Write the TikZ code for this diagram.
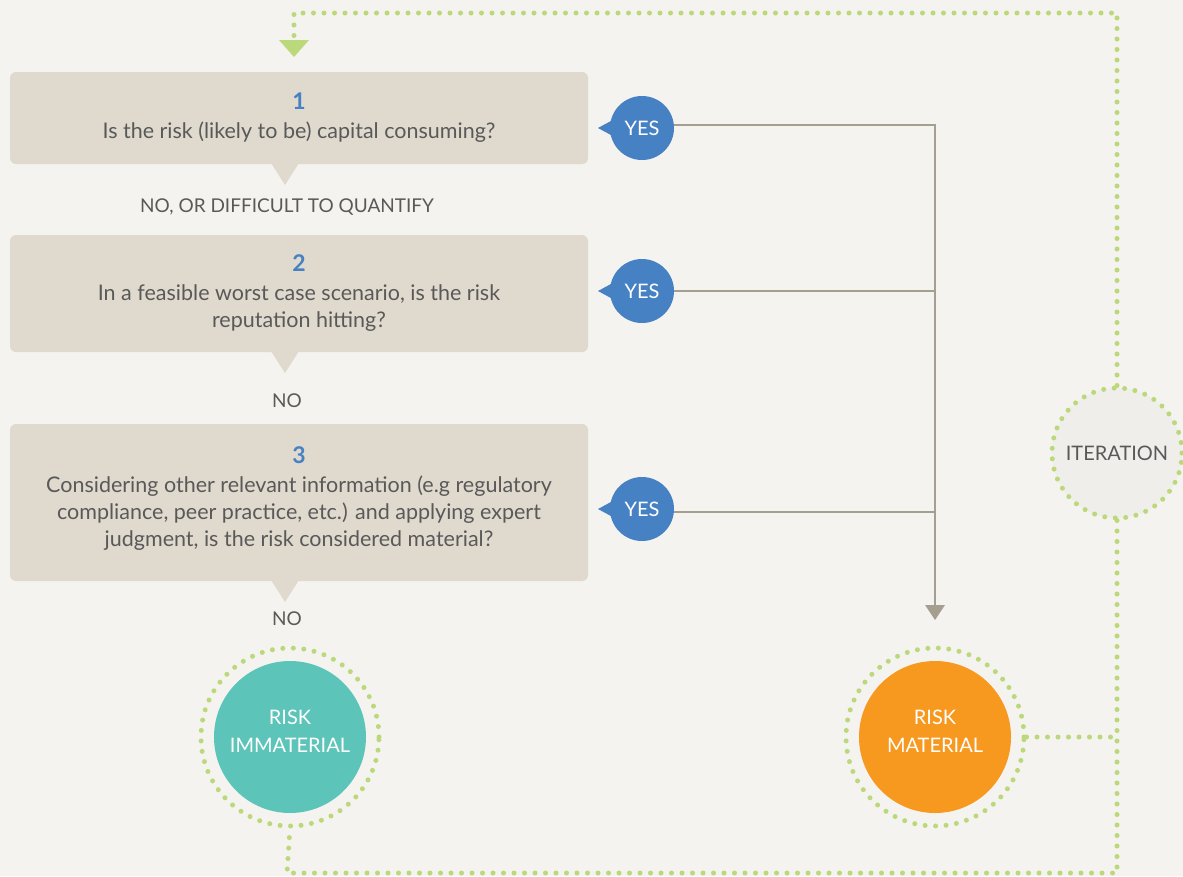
\documentclass[tikz,border=0pt]{standalone}
\usepackage{fontspec}
\setmainfont{Lato}
\usetikzlibrary{positioning, arrows.meta, calc}

\definecolor{bgcol}{HTML}{F4F3EF}
\definecolor{boxfill}{HTML}{E0D9CD}
\definecolor{numblue}{HTML}{4681C3}
\definecolor{linkgray}{HTML}{A59F8F}
\definecolor{dotgreen}{HTML}{BBD97A}
\definecolor{immteal}{HTML}{5CC4B8}
\definecolor{matorange}{HTML}{F7981F}
\definecolor{iterfill}{HTML}{EFEEEB}
\definecolor{txtgray}{HTML}{595959}

\tikzset{
    question/.style={rectangle, rounded corners=6pt, fill=boxfill, text=txtgray, align=center,
        minimum width=578pt, inner sep=0pt, font=\fontsize{21.5}{27}\selectfont},
    answer/.style={text=txtgray, font=\fontsize{19}{24}\selectfont},
    yesball/.style={circle, fill=numblue, text=white, minimum size=64pt, inner sep=0pt,
        font=\fontsize{20}{24}\selectfont},
    outcome/.style={circle, minimum size=152pt, inner sep=0pt, text=white, align=center,
        text depth=12pt, font=\fontsize{20}{28}\selectfont},
    dots/.style={draw=dotgreen, line width=5pt, line cap=round, dash pattern=on 0pt off 10.5pt},
    ring/.style={circle, dots, minimum size=178pt, inner sep=0pt},
    link/.style={draw=linkgray, line width=2pt},
}
\newcommand{\qnum}[1]{{\color{numblue}\fontsize{23}{27}\selectfont\bfseries #1}\\[2pt]}

\begin{document}
\begin{tikzpicture}[x=1pt, y=-1pt]
    \fill[bgcol] (0,0) rectangle (1183,876);
    \useasboundingbox (0,0) rectangle (1183,876);

    % questions
    \node (q1) at (299,118) [question, minimum height=92pt] {\qnum{1}Is the risk (likely to be) capital consuming?};
    \node (q2) at (299,293.5) [question, minimum height=117pt] {\qnum{2}In a feasible worst case scenario, is the risk\\reputation hitting?};
    \node (q3) at (299,502.5) [question, minimum height=157pt, text depth=12pt] {\qnum{3}Considering other relevant information (e.g regulatory\\compliance, peer practice, etc.) and applying expert\\judgment, is the risk considered material?};
    \fill[boxfill] (271,163) -- (299,163) -- (285,185) -- cycle;
    \fill[boxfill] (271,351) -- (299,351) -- (285,373) -- cycle;
    \fill[boxfill] (271,580) -- (299,580) -- (285,602) -- cycle;

    \node (no1) at (287,207) [answer] {NO, OR DIFFICULT TO QUANTIFY};
    \node (no2) at (287,401) [answer] {NO};
    \node (no3) at (287,619) [answer] {NO};

    % yes answers
    \foreach \i/\y in {1/128, 2/291, 3/509} {
        \node (yes\i) at (642,\y) [yesball] {YES};
        \fill[numblue] ($(yes\i)+(-44,0)$) -- ($(yes\i)+(-20,-13)$) -- ($(yes\i)+(-20,13)$) -- cycle;
    }

    % outcomes
    \node (immring) at (290,737) [ring] {};
    \node (imm) at (290,737) [outcome, fill=immteal] {RISK\\IMMATERIAL};
    \node (matring) at (935,737) [ring] {};
    \node (mat) at (935,737) [outcome, fill=matorange] {RISK\\MATERIAL};
    \node (iter) at (1117,453) [circle, dots, fill=iterfill, minimum size=130pt, text=txtgray,
        font=\fontsize{20}{24}\selectfont] {ITERATION};

    % links to material
    \coordinate (tip) at (935,620);
    \draw[link, -{Triangle[width=20pt, length=15pt, line width=0pt]}] ([yshift=3pt]yes1.east) -| (tip);
    \draw[link] (yes2.east) -- (yes2.east -| tip);
    \draw[link] ([yshift=-3pt]yes3.east) -- ([yshift=-3pt]yes3.east -| tip);

    % iteration loop
    \coordinate (entry) at (294,57);
    \coordinate (topright) at (1117,13);
    \coordinate (topleft) at (294,13);
    \coordinate (botright) at (1117,873);
    \coordinate (botleft) at (287,873);
    \draw[dots, -{Triangle[width=30pt, length=17pt, line width=0pt]}] (iter.north) -- (topright) -- (topleft) -- (entry);
    \draw[dots] (iter.south) -- (botright) -- (botleft) -- (immring.south);
    \draw[dots] (matring.east) -- (matring.east -| iter);
\end{tikzpicture}
\end{document}
